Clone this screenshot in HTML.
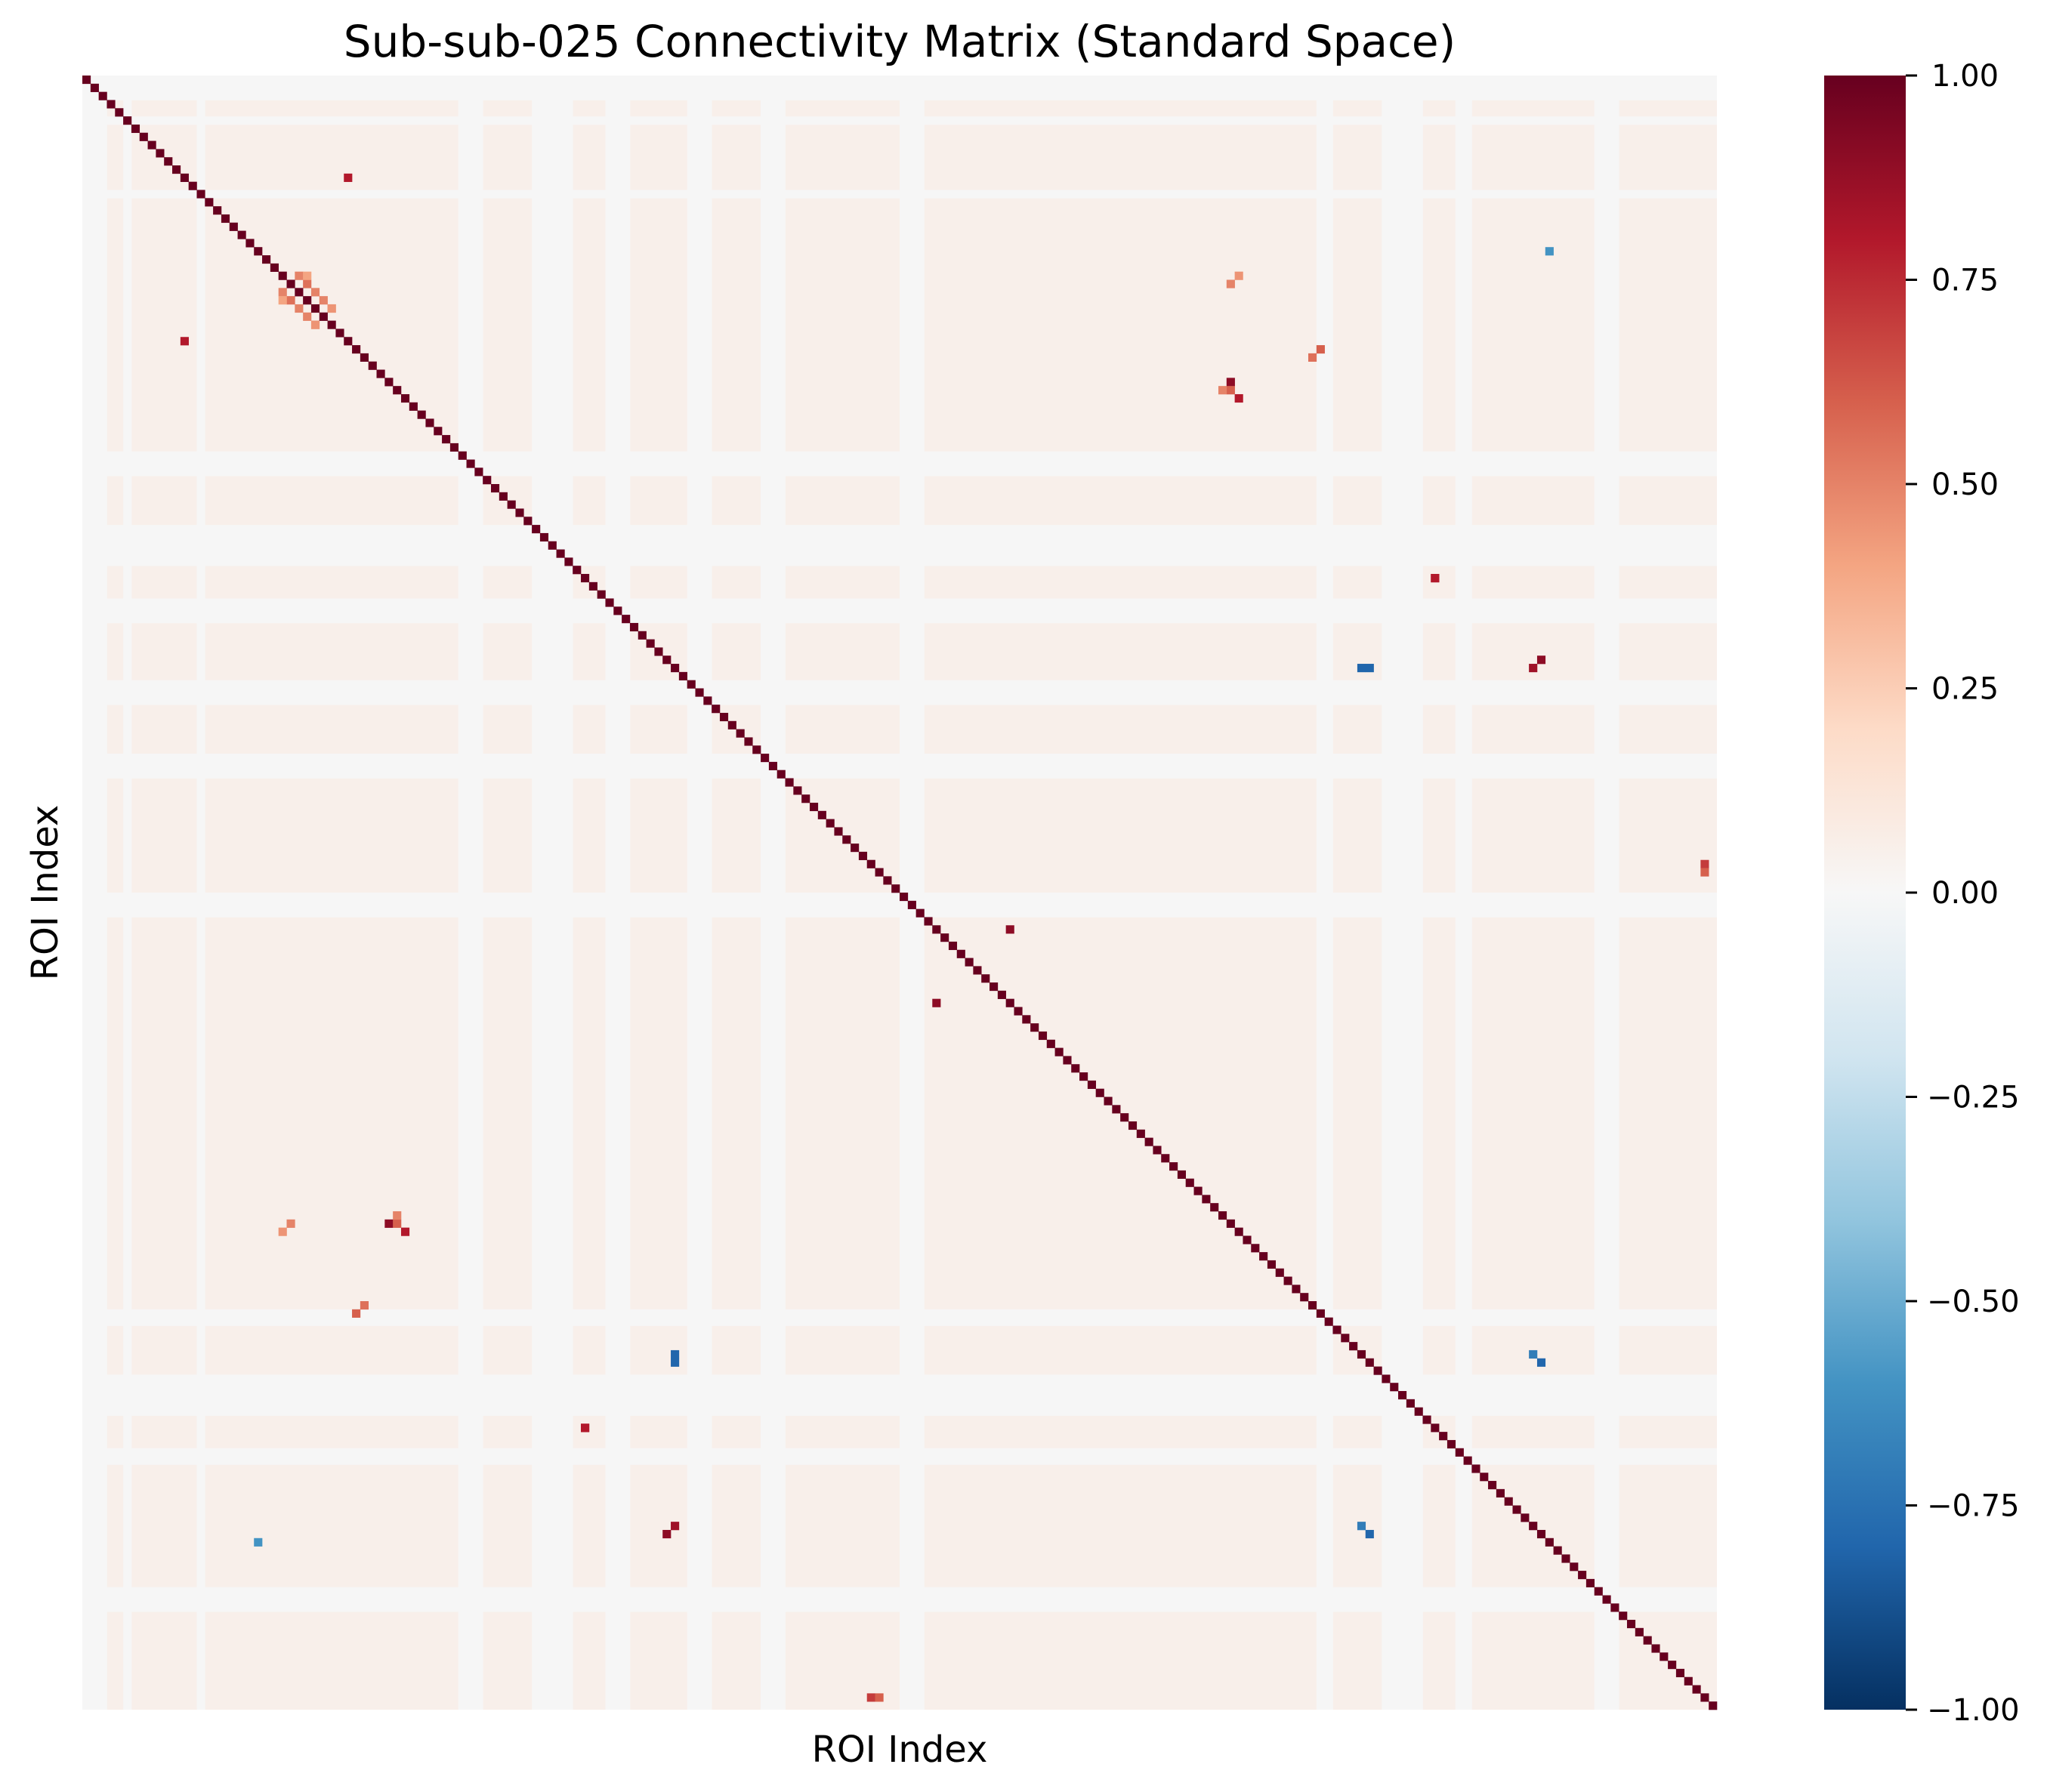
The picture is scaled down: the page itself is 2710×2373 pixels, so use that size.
<!DOCTYPE html>
<html><head><meta charset="utf-8"><style>
html,body{margin:0;padding:0;background:#fff;}
svg{display:block;font-family:"DejaVu Sans","Liberation Sans",sans-serif;}
</style></head><body>
<svg id="fig" width="2710" height="2373" viewBox="0 0 2710 2373" xmlns="http://www.w3.org/2000/svg">
<defs>
<linearGradient id="cmap" x1="0" y1="1" x2="0" y2="0">
<stop offset="0" stop-color="#053061"/><stop offset="0.1" stop-color="#2166ac"/><stop offset="0.2" stop-color="#4393c3"/><stop offset="0.3" stop-color="#92c5de"/><stop offset="0.4" stop-color="#d1e5f0"/><stop offset="0.5" stop-color="#f7f7f7"/><stop offset="0.6" stop-color="#fddbc7"/><stop offset="0.7" stop-color="#f4a582"/><stop offset="0.8" stop-color="#d6604d"/><stop offset="0.9" stop-color="#b2182b"/><stop offset="1" stop-color="#67001f"/>
</linearGradient>
</defs>
<text x="1191" y="75" font-size="58" text-anchor="middle">Sub-sub-025 Connectivity Matrix (Standard Space)</text>
<g id="heat"></g>
<text x="1191" y="2333" font-size="48" text-anchor="middle">ROI Index</text>
<text x="0" y="0" font-size="48" text-anchor="middle" transform="translate(76,1182) rotate(-90)">ROI Index</text>
<rect x="2415" y="100" width="108" height="2164" fill="url(#cmap)"/>
<g id="cbticks"></g>
</svg>
<script>
const nROI = 200;
const baselineValue = 0.05;
const emptyROIs = [0,1,2,5,14,46,47,48,55,56,57,58,59,64,65,66,74,75,76,83,84,85,100,101,102,151,152,159,160,161,162,163,168,169,185,186,187];
const cellRows = [32,157,71,37,72,113,61,165,177,157,177,21,96,198,26,27,28,29,30,27,28,39,38,38,140,141,150,151];
const cellCols = [12,72,178,140,156,104,165,61,72,178,156,179,198,97,24,25,26,27,28,24,30,141,140,139,25,24,34,33];
const cellVals = [0.8,-0.8,0.9,0.9,-0.8,0.9,0.8,0.8,0.85,-0.8,-0.7,-0.6,0.7,0.6,0.5,0.55,0.5,0.5,0.45,0.4,0.45,0.8,0.6,0.5,0.5,0.45,0.55,0.6];
const cbTicks = [-1,-0.75,-0.5,-0.25,0,0.25,0.5,0.75,1];
const cbLabels = ["\u22121.00","\u22120.75","\u22120.50","\u22120.25","0.00","0.25","0.50","0.75","1.00"];

const X0=109, Y0=100, SIZE=2164, cell=SIZE/nROI;
const stops=[[-1,[5,48,97]],[-0.8,[33,102,172]],[-0.6,[67,147,195]],[-0.4,[146,197,222]],[-0.2,[209,229,240]],[0,[246,246,246]],[0.2,[253,219,199]],[0.4,[244,165,130]],[0.6,[214,96,77]],[0.8,[178,24,43]],[1,[103,0,31]]];
function color(v){
  for(let k=0;k<stops.length-1;k++){const a=stops[k],b=stops[k+1];
    if(v<=b[0]){const t=(v-a[0])/(b[0]-a[0]);const c=a[1].map((x,i)=>Math.round(x+(b[1][i]-x)*t));return `rgb(${c})`;}}
  return 'rgb(103,0,31)';
}
const xs=i=>X0+i*cell, ys=i=>Y0+i*cell;
const NS='http://www.w3.org/2000/svg';
const heat=document.getElementById('heat');
function rect(x,y,w,h,f,name){const r=document.createElementNS(NS,'rect');
  r.setAttribute('x',x);r.setAttribute('y',y);r.setAttribute('width',w);r.setAttribute('height',h);r.setAttribute('fill',f);
  
  
  heat.appendChild(r);}
rect(X0,Y0,SIZE,SIZE,color(baselineValue),'heatmap-background');
emptyROIs.forEach(i=>{
  rect(X0,ys(i),SIZE,cell+0.4,color(0),'empty-roi-row');
  rect(xs(i),Y0,cell+0.4,SIZE,color(0),'empty-roi-column');
});
for(let i=0;i<cellVals.length;i++){
  rect(xs(cellCols[i]),ys(cellRows[i]),cell+0.3,cell+0.3,color(cellVals[i]),'heatmap-cell');
  rect(xs(cellRows[i]),ys(cellCols[i]),cell+0.3,cell+0.3,color(cellVals[i]),'heatmap-cell');
}
for(let i=0;i<nROI;i++) rect(xs(i),ys(i),cell+0.3,cell+0.3,color(1),'diagonal-cell');
const cb=document.getElementById('cbticks');
const cy=v=>100+(1-(v+1)/2)*2164;
cbTicks.forEach((v,i)=>{
  const l=document.createElementNS(NS,'line');
  l.setAttribute('x1',2523);l.setAttribute('x2',2538);l.setAttribute('y1',cy(v));l.setAttribute('y2',cy(v));l.setAttribute('stroke','#000');l.setAttribute('stroke-width',3);
  
  
  cb.appendChild(l);
  const t=document.createElementNS(NS,'text');
  t.setAttribute('x',v<0?2551:2557);t.setAttribute('y',cy(v)+14);t.setAttribute('font-size',40);
  t.textContent=cbLabels[i];
  
  
  cb.appendChild(t);
});
</script>
</body></html>
